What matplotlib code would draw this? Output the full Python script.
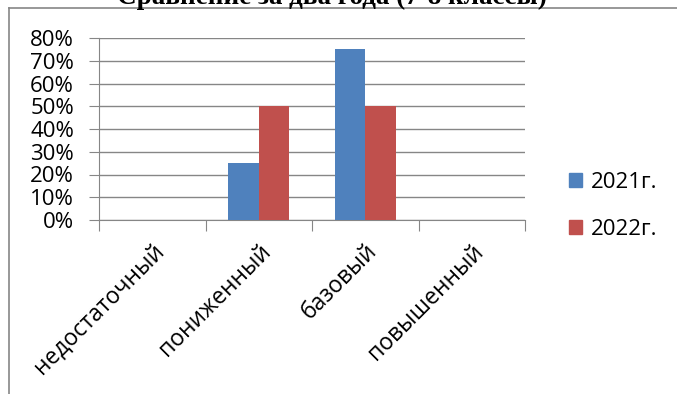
import matplotlib
matplotlib.use("Agg")
import matplotlib.pyplot as plt
import numpy as np
from matplotlib.lines import Line2D
from matplotlib.patches import Patch

categories = ["недостаточный", "пониженный", "базовый", "повышенный"]
series_names = ["2021г.", "2022г."]
values_2021 = [0, 25, 75, 0]
values_2022 = [0, 50, 50, 0]
yticks = [0, 10, 20, 30, 40, 50, 60, 70, 80]
title = "Сравнение за два года (7-8 классы)"

colors = ["#4F81BD", "#C0504D"]
W, H = 677, 394
fig = plt.figure(figsize=(W / 100, H / 100), dpi=100)

# plot area in pixels
x0, x1 = 99, 525
y0, y1 = 220, 38
ax = fig.add_axes([x0 / W, 1 - y0 / H, (x1 - x0) / W, (y0 - y1) / H])

n = len(categories)
x = np.arange(n)
bw = 0.286
ax.bar(x - bw / 2, values_2021, bw, color=colors[0], zorder=3)
ax.bar(x + bw / 2, values_2022, bw, color=colors[1], zorder=3)

ax.set_xlim(-0.5, n - 0.5)
ax.set_ylim(0, 80)
ax.set_yticks(yticks)
ax.set_yticklabels([f"{v}%" for v in yticks], fontsize=16, family="Open Sans")
ax.yaxis.grid(True, color="#868686", linewidth=1, zorder=0)
ax.set_axisbelow(True)
for s in ["top", "right"]:
    ax.spines[s].set_visible(False)
ax.spines["left"].set_color("#868686")
ax.spines["bottom"].set_color("#868686")
ax.tick_params(axis="y", length=7, color="#868686", pad=11)
ax.tick_params(axis="x", length=8, color="#868686", pad=2)

ax.set_xticks(np.arange(n + 1) - 0.5, minor=False)
ax.set_xticklabels([])
ax.set_xticks(x, minor=True)
ax.set_xticklabels(categories, minor=True, rotation=45, ha="right", va="top",
                   rotation_mode="anchor", fontsize=16.5, family="Open Sans")
ax.tick_params(axis="x", which="minor", length=0, pad=14)

# legend
handles = [Patch(color=c) for c in colors]
fig.legend(handles, series_names, loc="upper left",
           bbox_to_anchor=(549 / W, 1 - 152 / H), frameon=False,
           prop={"family": "Open Sans", "size": 16},
           handlelength=0.6, handleheight=0.6, labelspacing=1.15,
           handletextpad=0.4)

# outer chart border (partially visible)
fig.add_artist(Line2D([9 / W, 9 / W], [0, 1 - 8 / H], color="#868686", lw=1.2,
                      transform=fig.transFigure))
fig.add_artist(Line2D([9 / W, 1], [1 - 8 / H, 1 - 8 / H], color="#868686", lw=1.2,
                      transform=fig.transFigure))

fig.text(332 / W, 1 - 3.5 / H, title, ha="center", va="baseline",
         fontsize=19.5, fontweight="bold", family="Liberation Serif")

fig.savefig("out.png", dpi=100)
